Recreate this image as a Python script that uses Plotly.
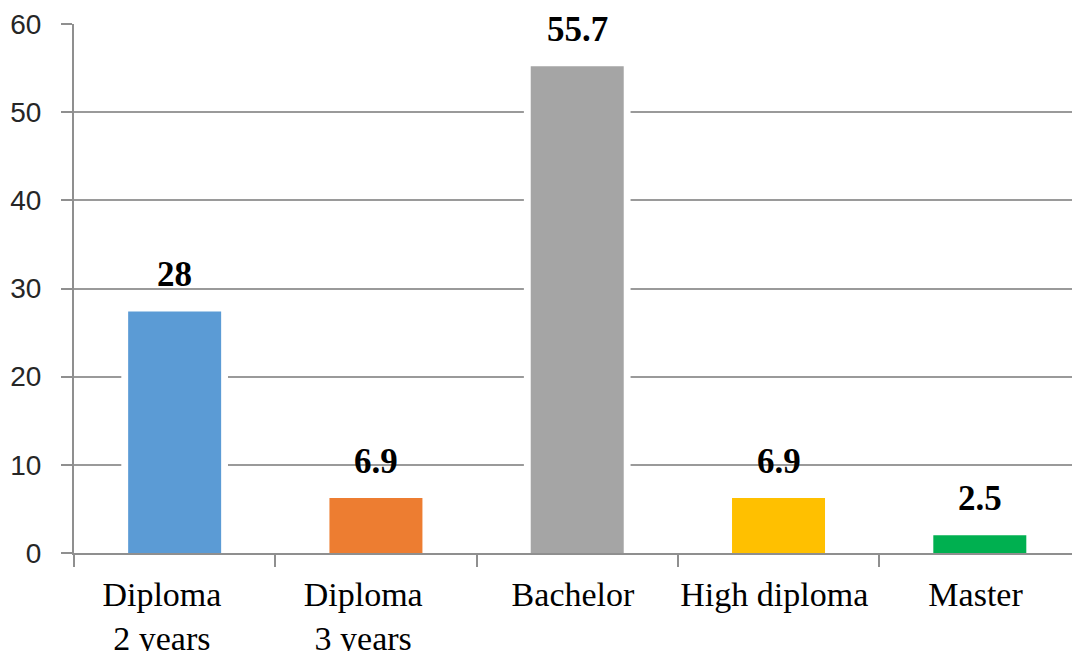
import plotly.graph_objects as go

NB = "\u00a0"
categories = [
    "Diploma" + NB * 3 + "<br>2 years" + NB * 3,
    "Diploma" + NB * 3 + "<br>3 years" + NB * 3,
    "Bachelor" + NB,
    "High diploma" + NB,
    "Master" + NB,
]
bar_values = [27.4, 6.25, 55.2, 6.25, 2.0]
value_labels = ["28", "6.9", "55.7", "6.9", "2.5"]
bar_colors = ["#5B9BD5", "#ED7D31", "#A5A5A5", "#FFC000", "#00B050"]
y_ticks = [0, 10, 20, 30, 40, 50, 60]

fig = go.Figure()

# white halo behind each bar (gridlines stop short of bars in the reference)
fig.add_trace(go.Bar(
    x=categories, y=bar_values, width=0.53,
    marker=dict(color="white", line=dict(width=0)),
    hoverinfo="skip", showlegend=False,
))
fig.add_trace(go.Bar(
    x=categories, y=bar_values, width=0.462,
    marker=dict(color=bar_colors, line=dict(width=0)),
    showlegend=False,
))

for c, v, t in zip(categories, bar_values, value_labels):
    fig.add_annotation(
        x=c, y=v, text=t, showarrow=False, yanchor="bottom", yshift=15,
        font=dict(family="Liberation Serif", size=35, color="black", weight="bold"),
    )

fig.update_layout(
    width=1072, height=651,
    margin=dict(l=74, r=0, t=24, b=98, autoexpand=False),
    paper_bgcolor="white", plot_bgcolor="white",
    barmode="overlay",
    showlegend=False,
)

fig.update_xaxes(
    range=[-0.5, 4.458],
    showline=True, linecolor="#8f8f8f", linewidth=2,
    ticks="outside", tickson="boundaries", ticklen=12, tickcolor="#8f8f8f", tickwidth=2,
    showgrid=False, tickangle=0, automargin=False,
    tickfont=dict(family="Liberation Serif", size=34, color="black"),
    ticklabelstandoff=10,
)
fig.update_yaxes(
    range=[0, 60], tickvals=y_ticks,
    showline=True, linecolor="#8f8f8f", linewidth=2,
    ticks="outside", ticklen=11, tickcolor="#8f8f8f", tickwidth=2,
    showgrid=True, gridcolor="#9a9a9a", gridwidth=2,
    zeroline=False, automargin=False,
    tickfont=dict(family="Liberation Sans", size=28, color="#262626"),
    ticklabelstandoff=14,
)

fig.write_html("out.html")
